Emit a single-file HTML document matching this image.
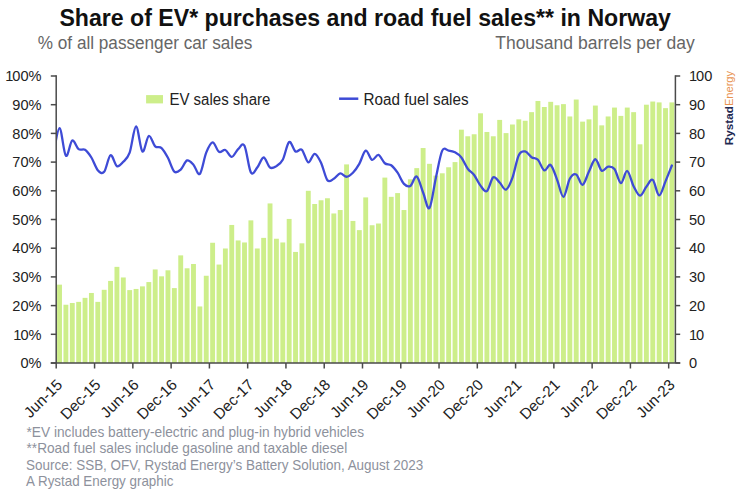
<!DOCTYPE html>
<html><head><meta charset="utf-8"><style>
html,body{margin:0;padding:0;background:#fff;}
svg{display:block;}
text{font-family:"Liberation Sans",Arial,sans-serif;}
.ax{font-size:14px;fill:#222;}
.title{font-size:23.5px;font-weight:bold;fill:#111;}
.sub{font-size:17.5px;fill:#666;}
.leg{font-size:16px;fill:#222;}
.foot{font-size:14.3px;fill:#8d919c;}
</style></head><body>
<svg width="743" height="494" viewBox="0 0 743 494">
<rect width="743" height="494" fill="#fff"/>
<text class="title" x="59.4" y="26.2" textLength="611.5" lengthAdjust="spacingAndGlyphs">Share of EV* purchases and road fuel sales** in Norway</text>
<text class="sub" x="37.8" y="49" textLength="214.5" lengthAdjust="spacingAndGlyphs">% of all passenger car sales</text>
<text class="sub" x="495.2" y="49" textLength="199.6" lengthAdjust="spacingAndGlyphs">Thousand barrels per day</text>
<g fill="#cdee8a"><rect x="57.08" y="284.65" width="4.88" height="78.35"/><rect x="63.46" y="304.74" width="4.88" height="58.26"/><rect x="69.84" y="303.02" width="4.88" height="59.98"/><rect x="76.22" y="301.87" width="4.88" height="61.13"/><rect x="82.60" y="297.85" width="4.88" height="65.15"/><rect x="88.97" y="292.97" width="4.88" height="70.03"/><rect x="95.35" y="301.87" width="4.88" height="61.13"/><rect x="101.73" y="289.81" width="4.88" height="73.19"/><rect x="108.11" y="280.92" width="4.88" height="82.08"/><rect x="114.49" y="266.86" width="4.88" height="96.14"/><rect x="120.87" y="277.47" width="4.88" height="85.53"/><rect x="127.25" y="290.10" width="4.88" height="72.90"/><rect x="133.63" y="288.95" width="4.88" height="74.05"/><rect x="140.01" y="286.37" width="4.88" height="76.63"/><rect x="146.39" y="282.07" width="4.88" height="80.93"/><rect x="152.76" y="269.44" width="4.88" height="93.56"/><rect x="159.14" y="276.33" width="4.88" height="86.67"/><rect x="165.52" y="270.30" width="4.88" height="92.70"/><rect x="171.90" y="288.09" width="4.88" height="74.91"/><rect x="178.28" y="255.38" width="4.88" height="107.62"/><rect x="184.66" y="268.29" width="4.88" height="94.71"/><rect x="191.04" y="263.99" width="4.88" height="99.01"/><rect x="197.42" y="306.46" width="4.88" height="56.54"/><rect x="203.80" y="275.75" width="4.88" height="87.25"/><rect x="210.18" y="242.75" width="4.88" height="120.25"/><rect x="216.55" y="264.56" width="4.88" height="98.44"/><rect x="222.93" y="248.49" width="4.88" height="114.51"/><rect x="229.31" y="224.95" width="4.88" height="138.05"/><rect x="235.69" y="240.45" width="4.88" height="122.55"/><rect x="242.07" y="242.46" width="4.88" height="120.54"/><rect x="248.45" y="220.36" width="4.88" height="142.64"/><rect x="254.83" y="248.49" width="4.88" height="114.51"/><rect x="261.21" y="237.87" width="4.88" height="125.13"/><rect x="267.59" y="203.43" width="4.88" height="159.57"/><rect x="273.97" y="238.73" width="4.88" height="124.27"/><rect x="280.34" y="242.46" width="4.88" height="120.54"/><rect x="286.72" y="218.93" width="4.88" height="144.07"/><rect x="293.10" y="251.93" width="4.88" height="111.07"/><rect x="299.48" y="243.32" width="4.88" height="119.68"/><rect x="305.86" y="190.80" width="4.88" height="172.20"/><rect x="312.24" y="204.00" width="4.88" height="159.00"/><rect x="318.62" y="200.27" width="4.88" height="162.73"/><rect x="325.00" y="198.26" width="4.88" height="164.74"/><rect x="331.38" y="213.47" width="4.88" height="149.53"/><rect x="337.76" y="210.03" width="4.88" height="152.97"/><rect x="344.13" y="164.40" width="4.88" height="198.60"/><rect x="350.51" y="220.94" width="4.88" height="142.06"/><rect x="356.89" y="230.12" width="4.88" height="132.88"/><rect x="363.27" y="197.40" width="4.88" height="165.60"/><rect x="369.65" y="225.24" width="4.88" height="137.76"/><rect x="376.03" y="223.52" width="4.88" height="139.48"/><rect x="382.41" y="177.60" width="4.88" height="185.40"/><rect x="388.79" y="196.83" width="4.88" height="166.17"/><rect x="395.17" y="193.10" width="4.88" height="169.90"/><rect x="401.55" y="210.03" width="4.88" height="152.97"/><rect x="407.92" y="179.32" width="4.88" height="183.68"/><rect x="414.30" y="168.13" width="4.88" height="194.87"/><rect x="420.68" y="148.04" width="4.88" height="214.96"/><rect x="427.06" y="163.82" width="4.88" height="199.18"/><rect x="433.44" y="175.59" width="4.88" height="187.41"/><rect x="439.82" y="173.29" width="4.88" height="189.71"/><rect x="446.20" y="167.27" width="4.88" height="195.73"/><rect x="452.58" y="162.10" width="4.88" height="200.90"/><rect x="458.96" y="129.67" width="4.88" height="233.33"/><rect x="465.34" y="136.27" width="4.88" height="226.73"/><rect x="471.71" y="134.26" width="4.88" height="228.74"/><rect x="478.09" y="113.31" width="4.88" height="249.69"/><rect x="484.47" y="131.97" width="4.88" height="231.03"/><rect x="490.85" y="136.27" width="4.88" height="226.73"/><rect x="497.23" y="119.91" width="4.88" height="243.09"/><rect x="503.61" y="133.11" width="4.88" height="229.89"/><rect x="509.99" y="124.50" width="4.88" height="238.50"/><rect x="516.37" y="119.34" width="4.88" height="243.66"/><rect x="522.75" y="120.77" width="4.88" height="242.23"/><rect x="529.13" y="112.16" width="4.88" height="250.84"/><rect x="535.50" y="100.97" width="4.88" height="262.03"/><rect x="541.88" y="107.00" width="4.88" height="256.00"/><rect x="548.26" y="101.83" width="4.88" height="261.17"/><rect x="554.64" y="105.27" width="4.88" height="257.73"/><rect x="561.02" y="104.13" width="4.88" height="258.87"/><rect x="567.40" y="116.47" width="4.88" height="246.53"/><rect x="573.78" y="99.53" width="4.88" height="263.47"/><rect x="580.16" y="121.63" width="4.88" height="241.37"/><rect x="586.54" y="119.34" width="4.88" height="243.66"/><rect x="592.92" y="105.56" width="4.88" height="257.44"/><rect x="599.29" y="125.36" width="4.88" height="237.64"/><rect x="605.67" y="116.47" width="4.88" height="246.53"/><rect x="612.05" y="107.57" width="4.88" height="255.43"/><rect x="618.43" y="115.89" width="4.88" height="247.11"/><rect x="624.81" y="107.57" width="4.88" height="255.43"/><rect x="631.19" y="112.16" width="4.88" height="250.84"/><rect x="637.57" y="144.31" width="4.88" height="218.69"/><rect x="643.95" y="104.70" width="4.88" height="258.30"/><rect x="650.33" y="101.54" width="4.88" height="261.46"/><rect x="656.71" y="102.40" width="4.88" height="260.60"/><rect x="663.08" y="108.14" width="4.88" height="254.86"/><rect x="669.46" y="102.40" width="4.88" height="260.60"/></g>
<clipPath id="pc"><rect x="56.30" y="60" width="620" height="310"/></clipPath>
<path d="M53.11,156.36 C54.17,151.67 57.36,128.33 59.49,128.23 C61.62,128.14 63.74,153.73 65.87,155.79 C67.99,157.84 70.12,141.68 72.25,140.57 C74.37,139.47 76.50,147.65 78.63,149.19 C80.75,150.72 82.88,148.37 85.01,149.76 C87.13,151.15 89.26,154.11 91.38,157.51 C93.51,160.90 95.64,167.74 97.76,170.14 C99.89,172.53 102.02,174.35 104.14,171.86 C106.27,169.37 108.40,156.17 110.52,155.21 C112.65,154.26 114.77,165.02 116.90,166.12 C119.03,167.22 121.15,164.06 123.28,161.81 C125.41,159.56 127.53,158.51 129.66,152.63 C131.78,146.75 133.91,126.70 136.04,126.51 C138.16,126.32 140.29,149.90 142.42,151.48 C144.54,153.06 146.67,136.84 148.80,135.98 C150.92,135.12 153.05,144.31 155.17,146.31 C157.30,148.32 159.43,146.12 161.55,148.04 C163.68,149.95 165.81,153.87 167.93,157.79 C170.06,161.72 172.19,169.61 174.31,171.57 C176.44,173.53 178.56,171.43 180.69,169.56 C182.82,167.70 184.94,161.19 187.07,160.38 C189.20,159.56 191.32,162.43 193.45,164.68 C195.57,166.93 197.70,175.88 199.83,173.87 C201.95,171.86 204.08,157.89 206.21,152.63 C208.33,147.37 210.46,142.44 212.59,142.30 C214.71,142.15 216.84,150.48 218.96,151.77 C221.09,153.06 223.22,149.19 225.34,150.05 C227.47,150.91 229.60,157.08 231.72,156.93 C233.85,156.79 235.98,151.05 238.10,149.19 C240.23,147.32 242.35,141.87 244.48,145.74 C246.61,149.62 248.73,168.80 250.86,172.43 C252.99,176.07 255.11,170.04 257.24,167.55 C259.36,165.07 261.49,157.51 263.62,157.51 C265.74,157.51 267.87,166.12 270.00,167.55 C272.12,168.99 274.25,167.41 276.38,166.12 C278.50,164.83 280.63,163.82 282.75,159.80 C284.88,155.79 287.01,143.40 289.13,142.01 C291.26,140.62 293.39,150.19 295.51,151.48 C297.64,152.77 299.77,147.94 301.89,149.76 C304.02,151.58 306.14,161.72 308.27,162.39 C310.40,163.06 312.52,153.73 314.65,153.78 C316.78,153.82 318.90,158.27 321.03,162.67 C323.15,167.07 325.28,177.50 327.41,180.18 C329.53,182.86 331.66,179.89 333.79,178.75 C335.91,177.60 338.04,173.63 340.17,173.29 C342.29,172.96 344.42,176.83 346.54,176.74 C348.67,176.64 350.80,174.87 352.92,172.72 C355.05,170.57 357.18,167.51 359.30,163.82 C361.43,160.14 363.56,151.29 365.68,150.62 C367.81,149.95 369.93,159.09 372.06,159.80 C374.19,160.52 376.31,154.35 378.44,154.92 C380.57,155.50 382.69,161.53 384.82,163.25 C386.94,164.97 389.07,163.68 391.20,165.26 C393.32,166.84 395.45,169.61 397.58,172.72 C399.70,175.83 401.83,181.71 403.96,183.91 C406.08,186.11 408.21,187.16 410.33,185.92 C412.46,184.68 414.59,175.35 416.71,176.45 C418.84,177.55 420.97,187.26 423.09,192.52 C425.22,197.78 427.35,210.46 429.47,208.02 C431.60,205.58 433.72,187.45 435.85,177.88 C437.98,168.32 440.10,155.16 442.23,150.62 C444.36,146.08 446.48,150.33 448.61,150.62 C450.73,150.91 452.86,151.19 454.99,152.34 C457.11,153.49 459.24,154.78 461.37,157.51 C463.49,160.23 465.62,165.78 467.75,168.70 C469.87,171.62 472.00,172.19 474.12,175.01 C476.25,177.84 478.38,182.96 480.50,185.63 C482.63,188.31 484.76,192.47 486.88,191.09 C489.01,189.70 491.14,178.75 493.26,177.31 C495.39,175.88 497.51,180.42 499.64,182.48 C501.77,184.53 503.89,190.42 506.02,189.65 C508.15,188.89 510.27,183.62 512.40,177.88 C514.52,172.14 516.65,159.61 518.78,155.21 C520.90,150.81 523.03,151.15 525.16,151.48 C527.28,151.82 529.41,155.83 531.54,157.22 C533.66,158.61 535.79,157.60 537.91,159.80 C540.04,162.00 542.17,169.56 544.29,170.42 C546.42,171.28 548.55,163.44 550.67,164.97 C552.80,166.50 554.93,174.30 557.05,179.61 C559.18,184.92 561.30,196.97 563.43,196.83 C565.56,196.68 567.68,182.48 569.81,178.75 C571.94,175.01 574.06,173.44 576.19,174.44 C578.31,175.45 580.44,185.25 582.57,184.77 C584.69,184.29 586.82,175.83 588.95,171.57 C591.07,167.31 593.20,159.37 595.33,159.23 C597.45,159.09 599.58,169.47 601.70,170.71 C603.83,171.95 605.96,166.98 608.08,166.69 C610.21,166.40 612.34,166.26 614.46,168.99 C616.59,171.71 618.72,182.72 620.84,183.05 C622.97,183.39 625.09,170.47 627.22,171.00 C629.35,171.52 631.47,182.09 633.60,186.21 C635.73,190.32 637.85,195.58 639.98,195.68 C642.10,195.77 644.23,189.41 646.36,186.78 C648.48,184.15 650.61,178.46 652.74,179.89 C654.86,181.33 656.99,195.15 659.12,195.39 C661.24,195.63 663.37,186.30 665.49,181.33 C667.62,176.35 670.81,168.17 671.87,165.54" fill="none" stroke="#3e4bd6" stroke-width="2.3" stroke-linejoin="round" stroke-linecap="round" clip-path="url(#pc)"/>
<g stroke="#4a4a4a" stroke-width="1.5" fill="none"><line x1="56.20" y1="75.2" x2="56.20" y2="368.5" /><line x1="675.4" y1="75.2" x2="675.4" y2="363.00" /><line x1="50.8" y1="363.00" x2="680.2" y2="363.00" /><line x1="50.8" y1="363.00" x2="56.30" y2="363.00" /><line x1="675.4" y1="363.00" x2="680.2" y2="363.00" /><line x1="50.8" y1="334.30" x2="56.30" y2="334.30" /><line x1="675.4" y1="334.30" x2="680.2" y2="334.30" /><line x1="50.8" y1="305.60" x2="56.30" y2="305.60" /><line x1="675.4" y1="305.60" x2="680.2" y2="305.60" /><line x1="50.8" y1="276.90" x2="56.30" y2="276.90" /><line x1="675.4" y1="276.90" x2="680.2" y2="276.90" /><line x1="50.8" y1="248.20" x2="56.30" y2="248.20" /><line x1="675.4" y1="248.20" x2="680.2" y2="248.20" /><line x1="50.8" y1="219.50" x2="56.30" y2="219.50" /><line x1="675.4" y1="219.50" x2="680.2" y2="219.50" /><line x1="50.8" y1="190.80" x2="56.30" y2="190.80" /><line x1="675.4" y1="190.80" x2="680.2" y2="190.80" /><line x1="50.8" y1="162.10" x2="56.30" y2="162.10" /><line x1="675.4" y1="162.10" x2="680.2" y2="162.10" /><line x1="50.8" y1="133.40" x2="56.30" y2="133.40" /><line x1="675.4" y1="133.40" x2="680.2" y2="133.40" /><line x1="50.8" y1="104.70" x2="56.30" y2="104.70" /><line x1="675.4" y1="104.70" x2="680.2" y2="104.70" /><line x1="50.8" y1="76.00" x2="56.30" y2="76.00" /><line x1="675.4" y1="76.00" x2="680.2" y2="76.00" /><line x1="94.57" y1="363.00" x2="94.57" y2="368.5" /><line x1="132.85" y1="363.00" x2="132.85" y2="368.5" /><line x1="171.12" y1="363.00" x2="171.12" y2="368.5" /><line x1="209.40" y1="363.00" x2="209.40" y2="368.5" /><line x1="247.67" y1="363.00" x2="247.67" y2="368.5" /><line x1="285.94" y1="363.00" x2="285.94" y2="368.5" /><line x1="324.22" y1="363.00" x2="324.22" y2="368.5" /><line x1="362.49" y1="363.00" x2="362.49" y2="368.5" /><line x1="400.77" y1="363.00" x2="400.77" y2="368.5" /><line x1="439.04" y1="363.00" x2="439.04" y2="368.5" /><line x1="477.31" y1="363.00" x2="477.31" y2="368.5" /><line x1="515.59" y1="363.00" x2="515.59" y2="368.5" /><line x1="553.86" y1="363.00" x2="553.86" y2="368.5" /><line x1="592.14" y1="363.00" x2="592.14" y2="368.5" /><line x1="630.41" y1="363.00" x2="630.41" y2="368.5" /><line x1="668.68" y1="363.00" x2="668.68" y2="368.5" /></g>
<g class="ax" style="font-size:14.6px"><text x="41.5" y="368.20" text-anchor="end">0%</text><text x="689" y="368.20">0</text><text x="41.5" y="339.50" text-anchor="end">1<tspan dx="-1.1">0</tspan>%</text><text x="689" y="339.50">1<tspan dx="-1.1">0</tspan></text><text x="41.5" y="310.80" text-anchor="end">20%</text><text x="689" y="310.80">20</text><text x="41.5" y="282.10" text-anchor="end">30%</text><text x="689" y="282.10">30</text><text x="41.5" y="253.40" text-anchor="end">40%</text><text x="689" y="253.40">40</text><text x="41.5" y="224.70" text-anchor="end">50%</text><text x="689" y="224.70">50</text><text x="41.5" y="196.00" text-anchor="end">60%</text><text x="689" y="196.00">60</text><text x="41.5" y="167.30" text-anchor="end">70%</text><text x="689" y="167.30">70</text><text x="41.5" y="138.60" text-anchor="end">80%</text><text x="689" y="138.60">80</text><text x="41.5" y="109.90" text-anchor="end">90%</text><text x="689" y="109.90">90</text><text x="41.5" y="81.20" text-anchor="end">1<tspan dx="-1.1">00</tspan>%</text><text x="689" y="81.20">1<tspan dx="-1.1">00</tspan></text></g>
<g class="ax" style="font-size:15.3px"><text transform="translate(63.29,385.7) rotate(-45)" text-anchor="end">Jun-15</text><text transform="translate(101.56,385.7) rotate(-45)" text-anchor="end">Dec-15</text><text transform="translate(139.84,385.7) rotate(-45)" text-anchor="end">Jun-16</text><text transform="translate(178.11,385.7) rotate(-45)" text-anchor="end">Dec-16</text><text transform="translate(216.39,385.7) rotate(-45)" text-anchor="end">Jun-17</text><text transform="translate(254.66,385.7) rotate(-45)" text-anchor="end">Dec-17</text><text transform="translate(292.93,385.7) rotate(-45)" text-anchor="end">Jun-18</text><text transform="translate(331.21,385.7) rotate(-45)" text-anchor="end">Dec-18</text><text transform="translate(369.48,385.7) rotate(-45)" text-anchor="end">Jun-19</text><text transform="translate(407.76,385.7) rotate(-45)" text-anchor="end">Dec-19</text><text transform="translate(446.03,385.7) rotate(-45)" text-anchor="end">Jun-20</text><text transform="translate(484.30,385.7) rotate(-45)" text-anchor="end">Dec-20</text><text transform="translate(522.58,385.7) rotate(-45)" text-anchor="end">Jun-21</text><text transform="translate(560.85,385.7) rotate(-45)" text-anchor="end">Dec-21</text><text transform="translate(599.13,385.7) rotate(-45)" text-anchor="end">Jun-22</text><text transform="translate(637.40,385.7) rotate(-45)" text-anchor="end">Dec-22</text><text transform="translate(675.67,385.7) rotate(-45)" text-anchor="end">Jun-23</text></g>
<rect x="146.1" y="95.1" width="16.9" height="8.3" fill="#cdee8a"/>
<text class="leg" x="169.4" y="104.6" textLength="101" lengthAdjust="spacingAndGlyphs">EV sales share</text>
<line x1="339.1" y1="98.7" x2="358.3" y2="98.7" stroke="#3e4bd6" stroke-width="2.5"/>
<text class="leg" x="363.6" y="104.6" textLength="105" lengthAdjust="spacingAndGlyphs">Road fuel sales</text>
<text transform="translate(732.6,145.2) rotate(-90)" font-size="10.6" font-weight="bold" fill="#1f2a52" textLength="39" lengthAdjust="spacingAndGlyphs">Rystad</text>
<text transform="translate(732.6,106) rotate(-90)" font-size="10.6" fill="#e8924f" textLength="35" lengthAdjust="spacingAndGlyphs">Energy</text>
<g class="foot">
<text x="26.5" y="436.8" textLength="337.6" lengthAdjust="spacingAndGlyphs">*EV includes battery-electric and plug-in hybrid vehicles</text>
<text x="26.5" y="453.3" textLength="320.7" lengthAdjust="spacingAndGlyphs">**Road fuel sales include gasoline and taxable diesel</text>
<text x="26.1" y="469.6" textLength="397.1" lengthAdjust="spacingAndGlyphs">Source: SSB, OFV, Rystad Energy’s Battery Solution, August 2023</text>
<text x="26.1" y="486" textLength="147.3" lengthAdjust="spacingAndGlyphs">A Rystad Energy graphic</text>
</g>
</svg>
</body></html>
